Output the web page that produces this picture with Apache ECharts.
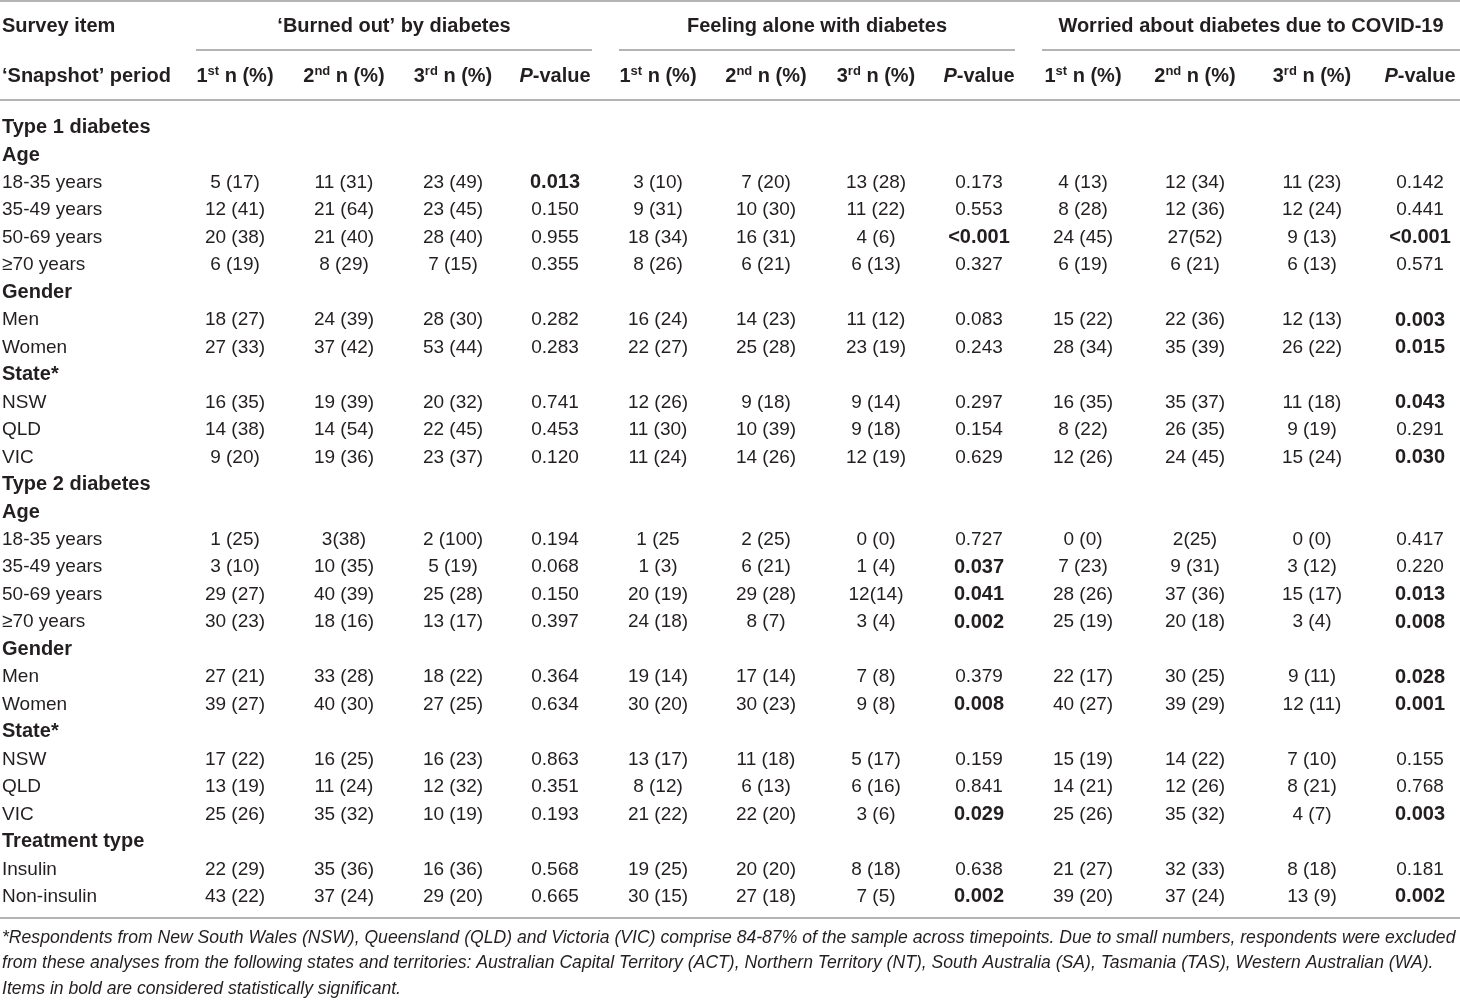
<!DOCTYPE html>
<html>
<head>
<meta charset="utf-8">
<script src="https://cdn.jsdelivr.net/npm/echarts@6/dist/echarts.min.js"></script>
<style>
  html, body { margin: 0; padding: 0; background: #fff; }
  #main { width: 1460px; height: 1001px; }
</style>
</head>
<body>
<div id="main"></div>
<script>
// table rows (left column); bold ones are section headings
var rowLabels = [
    'Type 1 diabetes', 'Age', '18-35 years', '35-49 years', '50-69 years', '\u226570 years',
    'Gender', 'Men', 'Women', 'State*', 'NSW', 'QLD', 'VIC',
    'Type 2 diabetes', 'Age', '18-35 years', '35-49 years', '50-69 years', '\u226570 years',
    'Gender', 'Men', 'Women', 'State*', 'NSW', 'QLD', 'VIC',
    'Treatment type', 'Insulin', 'Non-insulin'
];
var headingRows = [0, 1, 6, 9, 13, 14, 19, 22, 26];

var groups = ['\u2018Burned out\u2019 by diabetes', 'Feeling alone with diabetes', 'Worried about diabetes due to COVID-19'];
var periods = [['1', 'st'], ['2', 'nd'], ['3', 'rd']];

// 1st, 2nd, 3rd snapshot n (%), then P-value; null = heading row
var burnedOut = [
    null, null,
    ['5 (17)', '11 (31)', '23 (49)', '0.013'],
    ['12 (41)', '21 (64)', '23 (45)', '0.150'],
    ['20 (38)', '21 (40)', '28 (40)', '0.955'],
    ['6 (19)', '8 (29)', '7 (15)', '0.355'],
    null,
    ['18 (27)', '24 (39)', '28 (30)', '0.282'],
    ['27 (33)', '37 (42)', '53 (44)', '0.283'],
    null,
    ['16 (35)', '19 (39)', '20 (32)', '0.741'],
    ['14 (38)', '14 (54)', '22 (45)', '0.453'],
    ['9 (20)', '19 (36)', '23 (37)', '0.120'],
    null, null,
    ['1 (25)', '3(38)', '2 (100)', '0.194'],
    ['3 (10)', '10 (35)', '5 (19)', '0.068'],
    ['29 (27)', '40 (39)', '25 (28)', '0.150'],
    ['30 (23)', '18 (16)', '13 (17)', '0.397'],
    null,
    ['27 (21)', '33 (28)', '18 (22)', '0.364'],
    ['39 (27)', '40 (30)', '27 (25)', '0.634'],
    null,
    ['17 (22)', '16 (25)', '16 (23)', '0.863'],
    ['13 (19)', '11 (24)', '12 (32)', '0.351'],
    ['25 (26)', '35 (32)', '10 (19)', '0.193'],
    null,
    ['22 (29)', '35 (36)', '16 (36)', '0.568'],
    ['43 (22)', '37 (24)', '29 (20)', '0.665']
];

var feelingAlone = [
    null, null,
    ['3 (10)', '7 (20)', '13 (28)', '0.173'],
    ['9 (31)', '10 (30)', '11 (22)', '0.553'],
    ['18 (34)', '16 (31)', '4 (6)', '<0.001'],
    ['8 (26)', '6 (21)', '6 (13)', '0.327'],
    null,
    ['16 (24)', '14 (23)', '11 (12)', '0.083'],
    ['22 (27)', '25 (28)', '23 (19)', '0.243'],
    null,
    ['12 (26)', '9 (18)', '9 (14)', '0.297'],
    ['11 (30)', '10 (39)', '9 (18)', '0.154'],
    ['11 (24)', '14 (26)', '12 (19)', '0.629'],
    null, null,
    ['1 (25', '2 (25)', '0 (0)', '0.727'],
    ['1 (3)', '6 (21)', '1 (4)', '0.037'],
    ['20 (19)', '29 (28)', '12(14)', '0.041'],
    ['24 (18)', '8 (7)', '3 (4)', '0.002'],
    null,
    ['19 (14)', '17 (14)', '7 (8)', '0.379'],
    ['30 (20)', '30 (23)', '9 (8)', '0.008'],
    null,
    ['13 (17)', '11 (18)', '5 (17)', '0.159'],
    ['8 (12)', '6 (13)', '6 (16)', '0.841'],
    ['21 (22)', '22 (20)', '3 (6)', '0.029'],
    null,
    ['19 (25)', '20 (20)', '8 (18)', '0.638'],
    ['30 (15)', '27 (18)', '7 (5)', '0.002']
];

var worriedCovid = [
    null, null,
    ['4 (13)', '12 (34)', '11 (23)', '0.142'],
    ['8 (28)', '12 (36)', '12 (24)', '0.441'],
    ['24 (45)', '27(52)', '9 (13)', '<0.001'],
    ['6 (19)', '6 (21)', '6 (13)', '0.571'],
    null,
    ['15 (22)', '22 (36)', '12 (13)', '0.003'],
    ['28 (34)', '35 (39)', '26 (22)', '0.015'],
    null,
    ['16 (35)', '35 (37)', '11 (18)', '0.043'],
    ['8 (22)', '26 (35)', '9 (19)', '0.291'],
    ['12 (26)', '24 (45)', '15 (24)', '0.030'],
    null, null,
    ['0 (0)', '2(25)', '0 (0)', '0.417'],
    ['7 (23)', '9 (31)', '3 (12)', '0.220'],
    ['28 (26)', '37 (36)', '15 (17)', '0.013'],
    ['25 (19)', '20 (18)', '3 (4)', '0.008'],
    null,
    ['22 (17)', '30 (25)', '9 (11)', '0.028'],
    ['40 (27)', '39 (29)', '12 (11)', '0.001'],
    null,
    ['15 (19)', '14 (22)', '7 (10)', '0.155'],
    ['14 (21)', '12 (26)', '8 (21)', '0.768'],
    ['25 (26)', '35 (32)', '4 (7)', '0.003'],
    null,
    ['21 (27)', '32 (33)', '8 (18)', '0.181'],
    ['39 (20)', '37 (24)', '13 (9)', '0.002']
];

var footnotes = [
    '*Respondents from New South Wales (NSW), Queensland (QLD) and Victoria (VIC) comprise 84-87% of the sample across timepoints. Due to small numbers, respondents were excluded',
    'from these analyses from the following states and territories: Australian Capital Territory (ACT), Northern Territory (NT), South Australia (SA), Tasmania (TAS), Western Australian (WA).',
    'Items in bold are considered statistically significant.'
];

// layout (pixels)
var colX = [235, 344, 453, 555, 658, 766, 876, 979, 1083, 1195, 1312, 1420];
var groupLine = [[196, 592], [619, 1015], [1042, 1460]];
var FONT = '"Liberation Sans", Arial, sans-serif';
var INK = '#231f20';
var RULE = '#9b9b9b';

var measures = [burnedOut, feelingAlone, worriedCovid];

// every cell -> one item of the custom series
var cells = [];
rowLabels.forEach(function (lab, r) {
    cells.push({ x: 2, r: r, text: lab, bold: headingRows.indexOf(r) >= 0, align: 'left' });
    measures.forEach(function (m, g) {
        if (!m[r]) return;
        m[r].forEach(function (v, k) {
            var isP = k === 3;
            var sig = isP && (v.charAt(0) === '<' || parseFloat(v) < 0.05);
            cells.push({ x: colX[g * 4 + k], r: r, text: v, bold: sig, align: 'center' });
        });
    });
});

var graphics = [];
function rule(x1, x2, y) {
    graphics.push({ type: 'line', shape: { x1: x1, y1: y, x2: x2, y2: y }, style: { stroke: RULE, lineWidth: 1.5 }, silent: true });
}
rule(0, 1460, 1);
rule(0, 1460, 100);
rule(0, 1460, 918);
groupLine.forEach(function (s) { rule(s[0], s[1], 50); });

function headText(x, y, text, align, rich) {
    graphics.push({
        type: 'text', x: x, y: y,
        style: { text: text, x: 0, y: 0, align: align, verticalAlign: 'middle', font: 'bold 20px ' + FONT, fill: INK, rich: rich }
    });
}
var richHead = {
    b: { fontFamily: FONT, fontWeight: 'bold', fontSize: 20, fill: INK, lineHeight: 24 },
    s: { fontFamily: FONT, fontWeight: 'bold', fontSize: 13, fill: INK, lineHeight: 24, verticalAlign: 'top', padding: [0, 0, 9, 0] },
    i: { fontFamily: FONT, fontWeight: 'bold', fontStyle: 'italic', fontSize: 20, fill: INK, lineHeight: 24 }
};
headText(2, 26.5, 'Survey item', 'left');
headText(2, 76.5, '\u2018Snapshot\u2019 period', 'left');
groups.forEach(function (g, gi) {
    headText((groupLine[gi][0] + groupLine[gi][1]) / 2, 26.5, g, 'center');
    periods.forEach(function (p, k) {
        headText(colX[gi * 4 + k], 76.5, '{b|' + p[0] + '}{s|' + p[1] + '}{b| n (%)}', 'center', richHead);
    });
    headText(colX[gi * 4 + 3], 76.5, '{i|P}{b|-value}', 'center', richHead);
});
footnotes.forEach(function (t, i) {
    graphics.push({
        type: 'text', x: 2, y: 938 + i * 25.5,
        style: { text: t, align: 'left', verticalAlign: 'middle', font: 'italic 17.6px ' + FONT, fill: INK }
    });
});

var chart = echarts.init(document.getElementById('main'));
chart.setOption({
    animation: false,
    grid: { left: 0, right: 0, top: 114, bottom: 90.5 },
    xAxis: { type: 'value', min: 0, max: 1460, show: false },
    yAxis: { type: 'category', data: rowLabels.map(function (d, i) { return i; }), inverse: true, show: false },
    graphic: graphics,
    series: [{
        type: 'custom',
        silent: true,
        data: cells.map(function (c) { return [c.x, c.r]; }),
        renderItem: function (params, api) {
            var c = cells[params.dataIndex];
            var pt = api.coord([api.value(0), api.value(1)]);
            return {
                type: 'text', x: pt[0], y: pt[1],
                style: {
                    text: c.text, align: c.align, verticalAlign: 'middle',
                    font: (c.bold ? 'bold 20px ' : '19px ') + FONT, fill: INK
                }
            };
        }
    }]
});
</script>
</body>
</html>
